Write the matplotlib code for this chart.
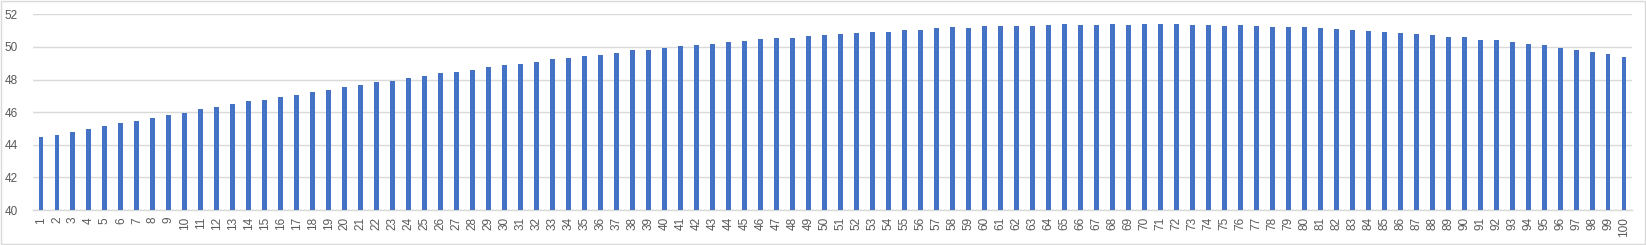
import matplotlib
matplotlib.use("Agg")
import matplotlib.pyplot as plt
from matplotlib.patches import Rectangle

# categories 1..100
categories = [str(i) for i in range(1, 101)]

# bar values
values = [
    44.50, 44.60, 44.78, 44.99, 45.17, 45.34, 45.46, 45.64, 45.83, 45.95,
    46.21, 46.32, 46.50, 46.68, 46.77, 46.95, 47.05, 47.24, 47.38, 47.54,
    47.67, 47.85, 47.93, 48.09, 48.22, 48.40, 48.46, 48.59, 48.77, 48.89,
    48.95, 49.08, 49.26, 49.32, 49.44, 49.51, 49.63, 49.81, 49.81, 49.93,
    50.06, 50.12, 50.18, 50.30, 50.36, 50.49, 50.55, 50.55, 50.67, 50.73,
    50.79, 50.85, 50.92, 50.92, 51.04, 51.04, 51.16, 51.22, 51.16, 51.28,
    51.28, 51.28, 51.28, 51.35, 51.41, 51.35, 51.35, 51.41, 51.35, 51.41,
    51.41, 51.41, 51.35, 51.35, 51.28, 51.35, 51.28, 51.22, 51.22, 51.22,
    51.16, 51.10, 51.04, 50.98, 50.92, 50.85, 50.79, 50.73, 50.61, 50.61,
    50.43, 50.43, 50.30, 50.18, 50.12, 49.93, 49.81, 49.69, 49.57, 49.38,
]

y_ticks = [40, 42, 44, 46, 48, 50, 52]

plt.rcParams['font.family'] = ['Liberation Sans', 'DejaVu Sans']

fig = plt.figure(figsize=(16.46, 2.45), dpi=100)
ax = fig.add_axes([33 / 1646, 1 - 210 / 245, (1632 - 33) / 1646, (210 - 14.3) / 245])

x = list(range(len(categories)))
ax.bar(x, [v - 40 for v in values], bottom=40, width=0.31, color='#4472C4', zorder=3)

ax.set_xlim(-0.5, len(categories) - 0.5)
ax.set_ylim(40, 52)
ax.set_yticks(y_ticks)
ax.set_yticklabels([str(t) for t in y_ticks])
ax.set_xticks(x)
ax.set_xticklabels(categories, rotation=90, va='top', ha='center')

ax.grid(axis='y', color='#D9D9D9', linewidth=1, zorder=0)
for s in ['top', 'right', 'left']:
    ax.spines[s].set_visible(False)
ax.spines['bottom'].set_color('#D9D9D9')
ax.spines['bottom'].set_linewidth(1)
ax.tick_params(axis='both', length=0, colors='#595959', labelsize=8.5)
ax.tick_params(axis='y', pad=11)
ax.tick_params(axis='x', pad=5)

# chart area border
fig.patches.append(Rectangle((0.0005, 0.003), 0.999, 0.994, transform=fig.transFigure,
                             fill=False, edgecolor='#D9D9D9', linewidth=1))

fig.savefig('out.png', dpi=100)
